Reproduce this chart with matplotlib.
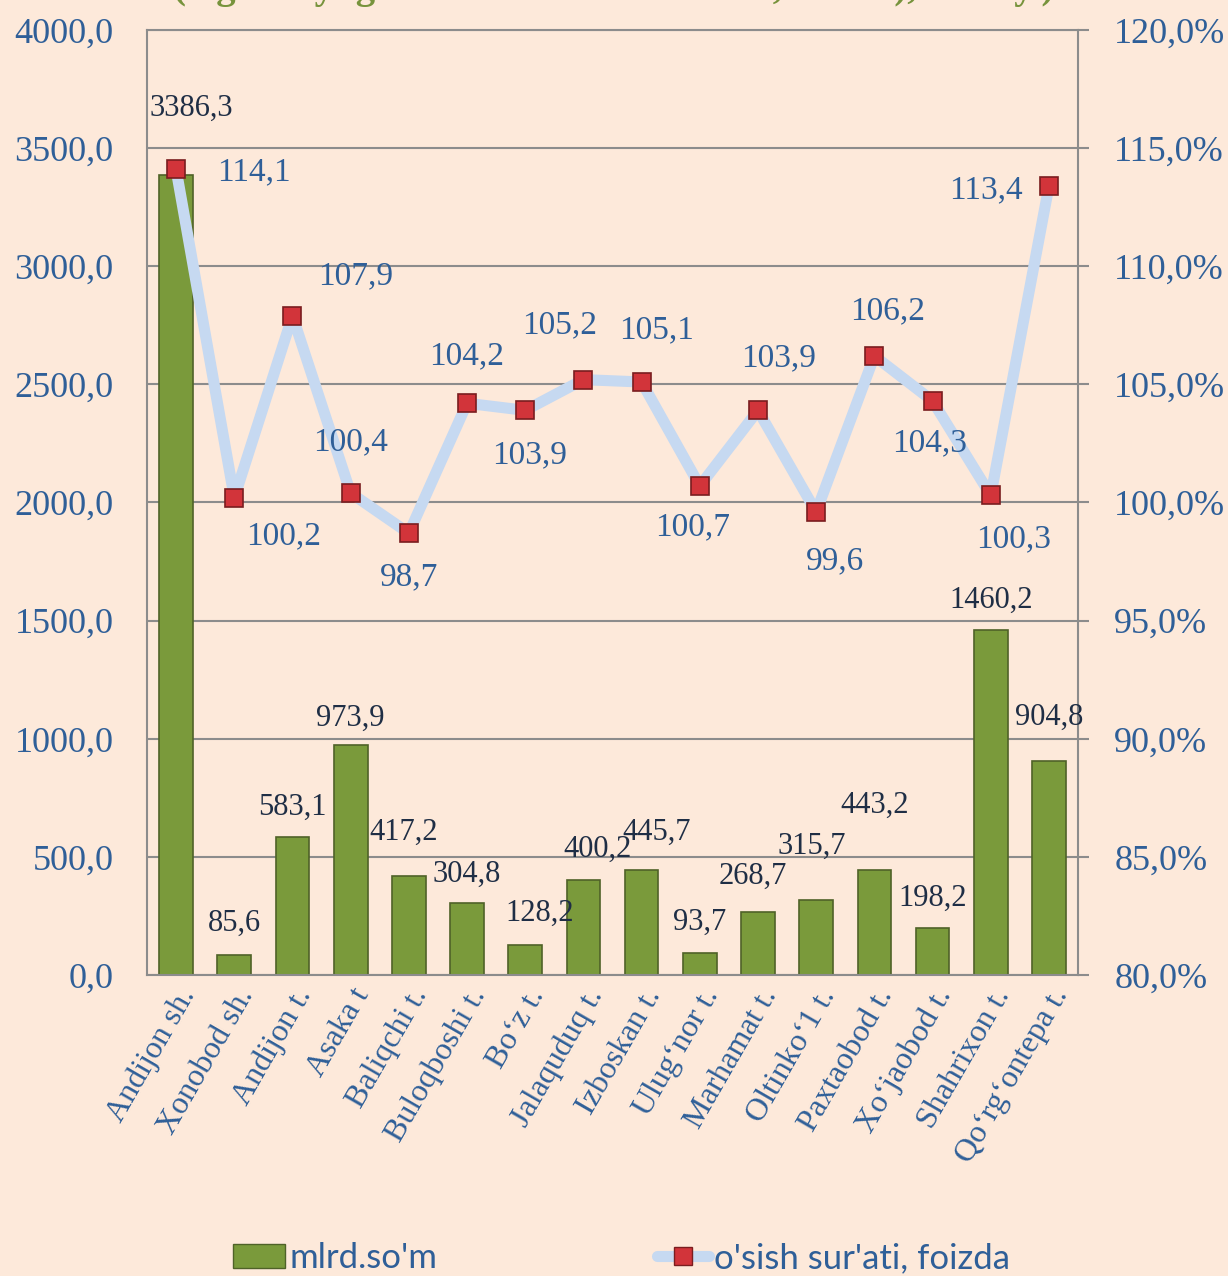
import matplotlib.pyplot as plt
from matplotlib.lines import Line2D
from matplotlib.patches import Patch
from matplotlib.ticker import FuncFormatter, MultipleLocator

# Data
districts = [
    "Andijon sh.", "Xonobod sh.", "Andijon t.", "Asaka t", "Baliqchi t.",
    "Buloqboshi t.", "Bo\u2018z t.", "Jalaquduq t.", "Izboskan t.",
    "Ulug\u2018nor t.", "Marhamat t.", "Oltinko\u20181 t.", "Paxtaobod t.",
    "Xo\u2018jaobod t.", "Shahrixon t.", "Qo\u2018rg\u2018ontepa t.",
]
volume_bn_sum = [3386.3, 85.6, 583.1, 973.9, 417.2, 304.8, 128.2, 400.2,
                 445.7, 93.7, 268.7, 315.7, 443.2, 198.2, 1460.2, 904.8]
growth_pct = [114.1, 100.2, 107.9, 100.4, 98.7, 104.2, 103.9, 105.2,
              105.1, 100.7, 103.9, 99.6, 106.2, 104.3, 100.3, 113.4]

# label offsets in pixels (layout only)
bar_label_dx = [15, 0, 0, 0, -5, 0, 14, 14, 15, 0, -5, -4, 0, 0, 0, 0]
bar_label_dy = [67, 31, 30, 27, 44, 29, 31, 31, 37, 31, 35, 54, 65, 30, 30, 44]
line_label_dx = [78, 49, 63, 0, 0, 0, 4, -24, 15, -7, 21, 19, 13, -3, 23, -63]
line_label_dy = [-3, -38, 40, 51, -44, 47, -45, 55, 52, -41, 52, -49, 45, -42, -44, -4]

BG = "#FDE9DA"
BLUE = "#2F5F98"
GREEN = "#7A9A3B"
GRID = "#8C8C8C"
SERIF = "Liberation Serif"

fig = plt.figure(figsize=(12.28, 12.76), dpi=100, facecolor=BG)
ax = fig.add_axes([0.1197, 0.2359, 0.7582, 0.7406])
ax.set_facecolor(BG)

x = list(range(len(districts)))
ax.bar(x, volume_bn_sum, width=0.58, color=GREEN, edgecolor="#4F6228",
       linewidth=1.2, zorder=2)
ax.set_xlim(-0.5, len(districts) - 0.5)
ax.set_ylim(0, 4000)
ax.yaxis.set_major_locator(MultipleLocator(500))
ax.yaxis.set_major_formatter(FuncFormatter(lambda v, p: f"{v:.1f}".replace(".", ",")))
ax.grid(axis="y", color=GRID, linewidth=1.5, zorder=0)
ax.set_axisbelow(True)
for s in ax.spines.values():
    s.set_color(GRID)
    s.set_linewidth(1.5)
ax.tick_params(axis="y", length=0, pad=24, labelsize=26, labelcolor=BLUE)
ax.tick_params(axis="x", length=0, pad=6)
ax.set_xticks(x)
ax.set_xticklabels(districts, rotation=60, ha="right", va="top",
                   rotation_mode="anchor", fontsize=23, color=BLUE,
                   family=SERIF)
for lab in ax.get_yticklabels():
    lab.set_family(SERIF)

for i, v in enumerate(volume_bn_sum):
    ax.annotate(f"{v:.1f}".replace(".", ","), (i, v),
                xytext=(bar_label_dx[i], bar_label_dy[i]),
                textcoords="offset pixels", ha="center", va="center",
                fontsize=22, color="#1F2E45", family=SERIF, zorder=5)

ax2 = ax.twinx()
ax2.set_ylim(80, 120)
ax2.yaxis.set_major_locator(MultipleLocator(5))
ax2.yaxis.set_major_formatter(FuncFormatter(lambda v, p: f"{v:.1f}%".replace(".", ",")))
ax2.tick_params(axis="y", length=8, width=1.5, color=GRID, pad=18,
                labelsize=26, labelcolor=BLUE)
for lab in ax2.get_yticklabels():
    lab.set_family(SERIF)
for s in ax2.spines.values():
    s.set_visible(False)

ax2.plot(x, growth_pct, color="#C6D9F1", linewidth=8, solid_capstyle="round",
         zorder=3)
ax2.plot(x, growth_pct, linestyle="none", marker="s", markersize=13,
         markerfacecolor="#D2343A", markeredgecolor="#7A1D1F",
         markeredgewidth=1.2, zorder=4)
for i, v in enumerate(growth_pct):
    ax2.annotate(f"{v:.1f}".replace(".", ","), (i, v),
                 xytext=(line_label_dx[i], line_label_dy[i]),
                 textcoords="offset pixels", ha="center", va="center",
                 fontsize=24, color=BLUE, family=SERIF, zorder=5)

# title, cut off at the top edge in the original
fig.text(0.5, 1.0015, "(tegishli yilga nisbatan o\u2018sish sur\u2019ati, foizda), 2023 y.)",
         ha="center", va="baseline", fontsize=28, fontweight="bold",
         color="#77933C", family=SERIF)

handles = [
    Patch(facecolor=GREEN, edgecolor="#4F6228"),
    Line2D([0], [0], color="#C6D9F1", linewidth=8, solid_capstyle="round",
           marker="s", markersize=13, markerfacecolor="#D2343A",
           markeredgecolor="#7A1D1F"),
]
fig.legend(handles, ["mlrd.so'm", "o'sish sur'ati, foizda"], loc="center",
           bbox_to_anchor=(0.506, 0.014), ncol=2, frameon=False,
           columnspacing=6.3, handlelength=1.5, handletextpad=0.15,
           prop={"family": "Lato", "size": 25}, labelcolor=BLUE)

fig.savefig("out.png", dpi=100, facecolor=BG)
